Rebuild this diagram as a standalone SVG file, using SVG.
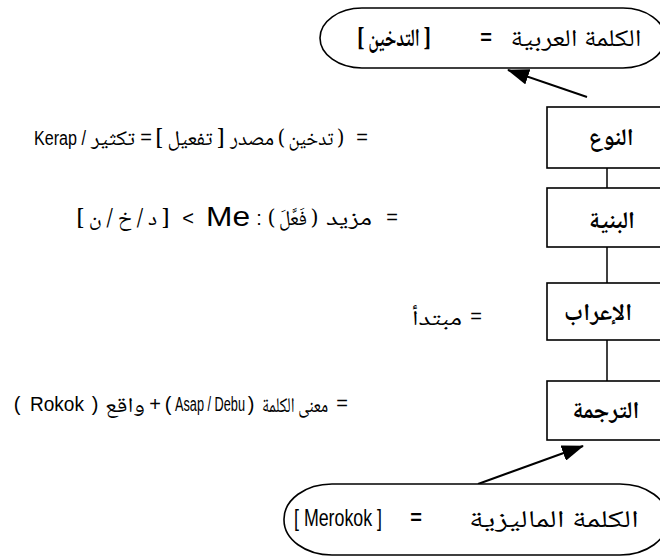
<svg xmlns="http://www.w3.org/2000/svg" width="660" height="559" viewBox="0 0 660 559">
<style>
.shape{fill:#fff;stroke:#000;stroke-width:1.6}
.conn{stroke:#000;stroke-width:1.5;fill:none}
.arrow{stroke:#000;stroke-width:2;fill:none}
.ar{font-family:"Noto Naskh Arabic","Noto Sans Arabic","DejaVu Sans",sans-serif;font-size:21px;fill:#000;text-anchor:middle}
.arbig{font-family:"Noto Naskh Arabic","Noto Sans Arabic","DejaVu Sans",sans-serif;font-size:24px;fill:#000;text-anchor:middle}
.arb{font-family:"Noto Naskh Arabic","Noto Sans Arabic","DejaVu Sans",sans-serif;font-size:24px;font-weight:bold;fill:#000;text-anchor:middle}
.la{font-family:"Liberation Sans Narrow","Liberation Sans",Arial,sans-serif;font-size:20px;fill:#000;text-anchor:middle}
.lab{font-family:"Liberation Sans",Arial,sans-serif;font-size:20px;font-weight:bold;fill:#000;text-anchor:middle}
</style>
<defs>
<marker id="ah" markerUnits="userSpaceOnUse" markerWidth="22" markerHeight="16" refX="21" refY="8" orient="auto">
<path d="M0,0 L22,8 L0,16 z" fill="#000"/>
</marker>
</defs>

<g id="connectors">
<line class="conn" x1="607" y1="168" x2="607" y2="188"/>
<line class="conn" x1="607" y1="247" x2="607" y2="283"/>
<line class="conn" x1="607" y1="340" x2="607" y2="381"/>
<line class="arrow" x1="587" y1="97" x2="508" y2="70" marker-end="url(#ah)"/>
<line class="arrow" x1="478" y1="484" x2="583" y2="446" marker-end="url(#ah)"/>
</g>

<g id="arabic-word">
<rect class="shape" x="320" y="8" width="345" height="60" rx="42" ry="30"/>
<text class="arb" x="394" y="46" style="font-size:25px" textLength="74" lengthAdjust="spacingAndGlyphs">[ التدخين ]</text>
<text class="lab" x="486" y="44">=</text>
<text class="arbig" x="576" y="46" textLength="131" lengthAdjust="spacingAndGlyphs">الكلمة العربية</text>
</g>

<g id="node-naw">
<rect class="shape" x="547" y="107" width="125" height="61"/>
<text class="arb" x="611" y="145">النوع</text>
</g>
<g id="row-naw">
<text class="la" x="60" y="145" textLength="52" lengthAdjust="spacingAndGlyphs">Kerap /</text>
<text class="ar" x="113" y="145" textLength="44" lengthAdjust="spacingAndGlyphs">تكثير</text>
<text class="la" x="146" y="144">=</text>
<text class="ar" x="190" y="145" textLength="70" lengthAdjust="spacingAndGlyphs">[ تفعيل ]</text>
<text class="ar" x="252" y="145" textLength="44" lengthAdjust="spacingAndGlyphs">مصدر</text>
<text class="ar" x="311" y="145" textLength="66" lengthAdjust="spacingAndGlyphs">( تدخين )</text>
<text class="la" x="362" y="144">=</text>
</g>

<g id="node-binya">
<rect class="shape" x="547" y="188" width="125" height="59"/>
<text class="arb" x="612" y="228">البنية</text>
</g>
<g id="row-binya">
<text class="ar" x="123" y="225" textLength="94" lengthAdjust="spacingAndGlyphs">[ د / خ / ن ]</text>
<text class="la" x="188" y="225">&lt;</text>
<text class="la" x="228" y="226" style="font-size:28px" textLength="44" lengthAdjust="spacingAndGlyphs">Me</text>
<text class="la" x="259" y="225">:</text>
<text class="ar" x="293" y="225" textLength="50" lengthAdjust="spacingAndGlyphs">( فَعَّلَ )</text>
<text class="ar" x="349" y="225" textLength="46" lengthAdjust="spacingAndGlyphs">مزيد</text>
<text class="la" x="392" y="224">=</text>
</g>

<g id="node-irab">
<rect class="shape" x="547" y="283" width="125" height="57"/>
<text class="arb" x="598" y="320">الإعراب</text>
</g>
<g id="row-irab">
<text class="ar" x="437" y="325" textLength="50" lengthAdjust="spacingAndGlyphs">مبتدأ</text>
<text class="la" x="476" y="323">=</text>
</g>

<g id="node-tarjama">
<rect class="shape" x="547" y="381" width="125" height="59"/>
<text class="arb" x="606" y="418">الترجمة</text>
</g>
<g id="row-tarjama">
<text class="la" x="17" y="411">(</text>
<text class="la" x="57" y="411" textLength="54" lengthAdjust="spacingAndGlyphs">Rokok</text>
<text class="la" x="95" y="411">)</text>
<text class="ar" x="125" y="412" textLength="40" lengthAdjust="spacingAndGlyphs">واقع</text>
<text class="la" x="155" y="411">+</text>
<text class="la" x="168" y="411">(</text>
<text class="la" x="210" y="411" textLength="70" lengthAdjust="spacingAndGlyphs">Asap / Debu</text>
<text class="la" x="251" y="411">)</text>
<text class="ar" x="295" y="412" textLength="66" lengthAdjust="spacingAndGlyphs">معنى الكلمة</text>
<text class="la" x="342" y="410">=</text>
</g>

<g id="malay-word">
<rect class="shape" x="284" y="484" width="384" height="71" rx="48" ry="35"/>
<text class="la" x="338" y="526" style="font-size:24px" textLength="88" lengthAdjust="spacingAndGlyphs">[ Merokok ]</text>
<text class="lab" x="416" y="524">=</text>
<text class="arbig" x="554" y="527" textLength="170" lengthAdjust="spacingAndGlyphs">الكلمة الماليزية</text>
</g>
</svg>
